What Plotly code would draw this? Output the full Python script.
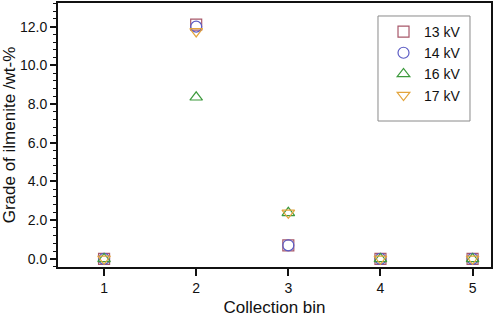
import plotly.graph_objects as go

bins = [1, 2, 3, 4, 5]
series_names = ["13 kV", "14 kV", "16 kV", "17 kV"]
grade_13kv = [0.0, 12.1, 0.7, 0.0, 0.0]
grade_14kv = [0.0, 12.0, 0.7, 0.0, 0.0]
grade_16kv = [0.0, 8.35, 2.38, 0.0, 0.0]
grade_17kv = [0.0, 11.75, 2.38, 0.0, 0.0]
y_tickvals = [0, 2, 4, 6, 8, 10, 12]
y_ticktext = ["0.0", "2.0", "4.0", "6.0", "8.0", "10.0", "12.0"]

symbols = ["square-open", "circle-open", "triangle-up-open", "triangle-down-open"]
colors = ["#a8586a", "#5c5cc4", "#3d9a3d", "#e3a43c"]
data = [grade_13kv, grade_14kv, grade_16kv, grade_17kv]

fig = go.Figure()
for name, ys, sym, col in zip(series_names, data, symbols, colors):
    fig.add_trace(go.Scatter(
        x=bins, y=ys, mode="markers", name=name,
        marker=dict(symbol=sym, size=11, color=col, line=dict(width=1.2, color=col)),
    ))

# legend frame (reference frame is taller than its entries)
fig.add_shape(type="rect", xref="paper", yref="paper",
              x0=0.739, x1=0.9515, y0=0.553, y1=0.9508,
              line=dict(color="#8a8a8a", width=1), fillcolor="white", layer="above")

font = "Liberation Sans, Arial, sans-serif"
fig.update_layout(
    width=498, height=318,
    margin=dict(l=58, r=7, t=3, b=51),
    paper_bgcolor="white", plot_bgcolor="white",
    font=dict(family=font, size=14, color="#111"),
    showlegend=True,
    legend=dict(
        x=0.7506, y=0.951, xanchor="left", yanchor="top",
        borderwidth=0, bgcolor="rgba(0,0,0,0)",
        font=dict(size=14), itemwidth=31, tracegroupgap=0,
    ),
    xaxis=dict(
        range=[0.5, 5.2], tickvals=bins, ticktext=[str(b) for b in bins],
        showgrid=False, zeroline=False, showline=True, mirror=True,
        linecolor="#111", linewidth=2, ticks="outside", ticklen=7, tickwidth=1.5,
        tickcolor="#111", title=dict(text="Collection bin", standoff=6),
        tickfont=dict(size=14), automargin=False,
    ),
    yaxis=dict(
        range=[-0.42, 13.22], tickvals=y_tickvals, ticktext=y_ticktext,
        showgrid=False, zeroline=False, showline=True, mirror=True,
        linecolor="#111", linewidth=2, ticks="outside", ticklen=6, tickwidth=1.5,
        tickcolor="#111", title=dict(text="Grade of ilmenite /wt-%", standoff=4),
        tickfont=dict(size=14), automargin=False,
        minor=dict(dtick=0.4, tick0=0, ticks="outside", ticklen=3, tickwidth=1, tickcolor="#111"),
    ),
)
fig.write_html("out.html", config={"displayModeBar": False},
               post_script="document.body.style.margin='0';")
